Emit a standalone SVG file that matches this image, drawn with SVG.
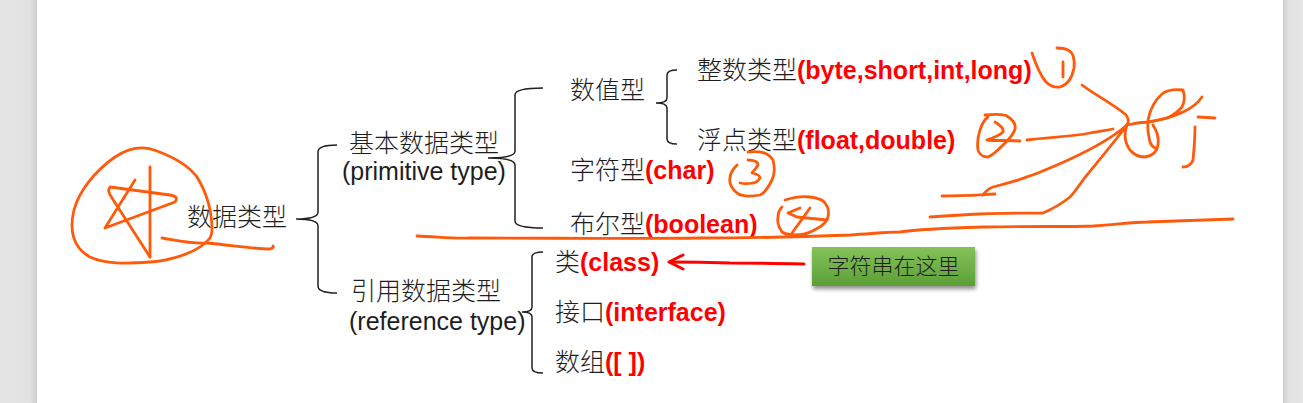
<svg xmlns="http://www.w3.org/2000/svg" width="1303" height="403" viewBox="0 0 1303 403">
<style>
.cn{font-family:"Noto Sans CJK SC","Liberation Sans",sans-serif;font-size:25px;font-weight:300;fill:#1e1e1e}
.en{font-family:"Liberation Sans",Arial,sans-serif;font-size:25px;font-weight:normal;fill:#1e1e1e}
.red{font-family:"Liberation Sans",Arial,sans-serif;font-weight:bold;fill:#ff0000}
.brace{fill:none;stroke:#222;stroke-width:1.5}
.ink{fill:none;stroke:#ff5a0a;stroke-width:2.8;stroke-linecap:round;stroke-linejoin:round}
</style>
<defs>
<linearGradient id="lm" x1="0" x2="1" y1="0" y2="0"><stop offset="0" stop-color="#e6e6e6"/><stop offset="0.8" stop-color="#e2e2e2"/><stop offset="1" stop-color="#cfcfcf"/></linearGradient>
<linearGradient id="rm" x1="0" x2="1" y1="0" y2="0"><stop offset="0" stop-color="#cfcfcf"/><stop offset="0.3" stop-color="#e2e2e2"/><stop offset="1" stop-color="#e6e6e6"/></linearGradient>
<linearGradient id="gb" x1="0" x2="0" y1="0" y2="1"><stop offset="0" stop-color="#84c25a"/><stop offset="1" stop-color="#5c9f36"/></linearGradient>
<filter id="sh" x="-10%" y="-20%" width="130%" height="160%"><feGaussianBlur in="SourceAlpha" stdDeviation="2"/><feOffset dx="1" dy="3"/><feComponentTransfer><feFuncA type="linear" slope="0.45"/></feComponentTransfer><feMerge><feMergeNode/><feMergeNode in="SourceGraphic"/></feMerge></filter>
</defs>
<rect x="0" y="0" width="1303" height="403" fill="#ffffff"/>
<rect x="0" y="0" width="37" height="403" fill="url(#lm)"/>
<rect x="1283" y="0" width="20" height="403" fill="url(#rm)"/>

<g id="connectors">
<path class="brace" d="M337,145 Q318,145 318,152 L318,212 Q318,219 296,219 Q318,219 318,226 L318,286 Q318,293 337,293"/>
<path class="brace" d="M543,88 Q515,88 515,95 L515,151 Q515,158 488,158 Q515,158 515,165 L515,221 Q515,228 543,228"/>
<path class="brace" d="M677,70 Q667,70 667,75 L667,98 Q667,103 656,103 Q667,103 667,108 L667,139 Q667,144 677,144"/>
<path class="brace" d="M543,252 Q532,252 532,257 L532,307 Q532,312 522,312 Q532,312 532,317 L532,368 Q532,373 543,373"/>
<g id="arrow" fill="none" stroke="#ff0000" stroke-width="3" stroke-linecap="round" stroke-linejoin="round">
<path d="M804,264 Q760,263 730,263 Q700,262 670,262"/>
<polyline points="683,255 669,262 683,269"/>
</g>
</g>

<g id="root"><text class="cn" x="187" y="226">数据类型</text></g>
<g id="primitive"><text class="cn" x="349" y="152">基本数据类型</text><text class="en" x="342" y="180">(primitive type)</text></g>
<g id="reference"><text class="cn" x="351" y="300">引用数据类型</text><text class="en" x="349" y="330">(reference type)</text></g>
<g id="numeric"><text class="cn" x="570" y="99">数值型</text></g>
<g id="integer"><text class="cn" x="697" y="79">整数类型<tspan class="red">(byte,short,int,long)</tspan></text></g>
<g id="float"><text class="cn" x="697" y="149">浮点类型<tspan class="red">(float,double)</tspan></text></g>
<g id="char"><text class="cn" x="570" y="179">字符型<tspan class="red">(char)</tspan></text></g>
<g id="boolean"><text class="cn" x="570" y="233">布尔型<tspan class="red">(boolean)</tspan></text></g>
<g id="class"><text class="cn" x="555" y="271">类<tspan class="red">(class)</tspan></text></g>
<g id="interface"><text class="cn" x="555" y="321">接口<tspan class="red">(interface)</tspan></text></g>
<g id="array"><text class="cn" x="555" y="371">数组<tspan class="red">([ ])</tspan></text></g>
<g id="note">
<rect x="812" y="247" width="163" height="39" fill="url(#gb)" filter="url(#sh)"/>
<text class="cn" x="893.5" y="274" text-anchor="middle" style="font-size:22px">字符串在这里</text>
</g>

<g id="scribbles" class="ink">
<path d="M212,230 C212,215 208,195 197,177 C188,165 173,157 157,151 C145,146 130,147 115,157 C95,171 79,191 74,210 C69,230 73,248 90,257 C105,264 125,264 150,262 C175,260 200,251 210,238 C212,234 212,232 212,230"/>
<path d="M162,238 C175,240 190,244 207,243 C230,245 255,249 270,249 C273,248 274,247 273,246"/>
<path d="M150,167 L150,257"/>
<path d="M135,180 L105,228 L175,202 C178,198 176,196 170,195 L110,187 C108,190 108,192 112,198 L150,257"/>
<path d="M417,236 C440,237 455,239 470,238 C550,238 650,239 700,238 C760,238 800,237 850,235 C880,233 890,232 900,232 C920,229 950,228 983,227 C1030,226 1070,227 1093,226 C1120,224 1135,222 1147,222 C1180,221 1210,220 1233,219"/>
<path d="M748,152 C760,151 768,152 773,160 C775,168 774,176 772,180 C768,188 765,193 760,195 C750,197 740,196 737,193 C731,188 729,183 730,178 C730,173 732,170 737,165"/>
<path d="M748,160 C754,160 758,162 758,165 C756,169 753,171 752,173 C757,174 760,176 760,178 C758,181 756,183 753,183 C748,184 744,184 740,183"/>
<path d="M785,200 C795,197 803,196 810,197 C818,198 823,200 825,203 C829,208 829,213 828,217 C826,223 822,226 818,228 C810,233 803,235 797,235 C790,235 785,234 782,232 C778,226 777,221 778,217 C778,212 780,209 782,207"/>
<path d="M800,208 L788,213 L797,217 L827,220"/>
<path d="M810,208 L792,233"/>
<path d="M1032,53 C1036,65 1040,75 1046,82 C1050,86 1054,88 1060,87 C1067,85 1072,78 1074,68 C1075,58 1072,52 1068,50 C1064,48 1060,48 1057,48"/>
<path d="M1063,62 L1063,77"/>
<path d="M1082,85 C1095,95 1115,105 1126,115 C1129,119 1129,122 1127,125"/>
<path d="M985,115 C995,114 1003,114 1007,116 C1013,120 1016,125 1015,129 C1013,135 1010,138 1007,141 C1000,148 994,155 988,157 C983,157 979,154 978,150 C977,143 978,136 980,130 C982,124 985,119 988,117"/>
<path d="M995,122 C1000,125 1004,129 1003,132 C999,136 993,138 987,140 C995,141 1008,140 1020,141"/>
<path d="M1027,140 C1050,137 1070,137 1090,133 C1100,131 1108,130 1113,129"/>
<path d="M1127,125 C1110,140 1080,155 1057,165 C1035,175 1010,183 993,187 C988,189 985,192 983,195"/>
<path d="M942,196 C960,196 975,195 995,194"/>
<path d="M1127,125 C1112,145 1095,165 1083,180 C1076,190 1072,195 1070,197 C1060,205 1050,210 1043,213 C1020,213 1000,213 980,214 C960,215 945,216 930,217"/>
<path d="M1127,125 C1124,132 1124,142 1130,150 C1135,156 1140,157 1145,157 C1152,156 1157,152 1158,145 C1159,138 1157,131 1153,125"/>
<path d="M1148,120 C1150,110 1155,100 1162,94 C1167,90 1173,89 1183,90 C1185,96 1184,103 1182,107 C1177,113 1172,116 1167,118 C1160,120 1153,121 1148,122 C1147,130 1149,138 1150,142 C1151,145 1153,147 1155,148"/>
<path d="M1127,125 C1135,123 1145,122 1150,122 C1165,119 1175,116 1183,112 C1192,108 1198,103 1202,97"/>
<path d="M1198,117 L1215,118"/>
<path d="M1195,127 C1195,140 1194,150 1193,160 C1191,165 1188,167 1183,167"/>
</g>
</svg>
